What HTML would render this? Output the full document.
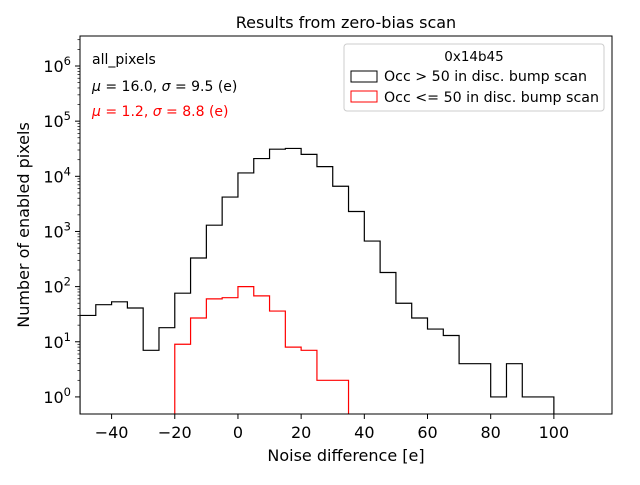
<!DOCTYPE html>
<html><head><meta charset="utf-8"><style>
body{margin:0;background:#fff;}
svg text{font-family:"DejaVu Sans","Liberation Sans",sans-serif;}
</style></head><body>
<svg id="chart" width="640" height="480" xmlns="http://www.w3.org/2000/svg">
<defs><clipPath id="clip"><rect x="80" y="36" width="532" height="378"/></clipPath></defs>
<rect x="0" y="0" width="640" height="480" fill="#fff"/>
<text x="346" y="28" font-size="16" text-anchor="middle">Results from zero-bias scan</text>
<g id="series" clip-path="url(#clip)"></g>
<rect x="80" y="36" width="532" height="378" fill="none" stroke="#000" stroke-width="1"/>
<g id="xticks"></g><g id="yticks"></g>
<text x="346" y="461" font-size="16" text-anchor="middle">Noise difference [e]</text>
<text transform="translate(29,225) rotate(-90)" font-size="16" text-anchor="middle">Number of enabled pixels</text>
<text x="92" y="64" font-size="14">all_pixels</text>
<text x="92" y="91" font-size="14"><tspan font-style="italic">μ</tspan> = 16.0, <tspan font-style="italic">σ</tspan> = 9.5 (e)</text>
<text x="92" y="116" font-size="14" fill="#ff0000"><tspan font-style="italic">μ</tspan> = 1.2, <tspan font-style="italic">σ</tspan> = 8.8 (e)</text>
<g>
<rect x="344" y="44" width="260" height="67" rx="3" fill="#fff" stroke="#ccc"/>
<text x="474" y="61" font-size="13.5" text-anchor="middle">0x14b45</text>
<rect x="351" y="71" width="26" height="11" fill="none" stroke="#000"/>
<text x="384" y="81" font-size="14.2">Occ &gt; 50 in disc. bump scan</text>
<rect x="351" y="91" width="26" height="11" fill="none" stroke="#ff0000"/>
<text x="384" y="102" font-size="14.2">Occ &lt;= 50 in disc. bump scan</text>
</g>
</svg>
<script>
const blackStart = -50;
const blackCounts = [30,47,53,41,7,18,76,330,1300,4200,11500,21000,31000,32000,25000,15000,6600,2300,670,180,50,27,17,13,4,4,1,4,1,1];
const redStart = -20;
const redCounts = [9,27,60,63,100,68,36,8,7,2,2];
const binWidth = 5;
const xTicks = [-40,-20,0,20,40,60,80,100];
const yTicks = [0,1,2,3,4,5,6];

const X0=80,X1=612,Y0=36,Y1=414;
const xmin=-50,xmax=118.4, ymin=Math.log10(0.49), ymax=Math.log10(3.5e6);
const xs=v=>X0+(v-xmin)/(xmax-xmin)*(X1-X0);
const ys=v=>Y1-(Math.log10(v)-ymin)/(ymax-ymin)*(Y1-Y0);
const NS="http://www.w3.org/2000/svg";
function stepPath(start,counts,color,name){
  let d=`M${xs(start)},${Y1+5}`;
  counts.forEach((c,i)=>{const a=start+i*binWidth;d+=` L${xs(a)},${ys(c)} L${xs(a+binWidth)},${ys(c)}`;});
  d+=` L${xs(start+counts.length*binWidth)},${Y1+5}`;
  const p=document.createElementNS(NS,'path');
  p.setAttribute('d',d);p.setAttribute('fill','none');p.setAttribute('stroke',color);p.setAttribute('stroke-width','1.2');
  
  
  document.getElementById('series').appendChild(p);
}
stepPath(blackStart,blackCounts,'#000','black-histogram');
stepPath(redStart,redCounts,'#ff0000','red-histogram');
const gx=document.getElementById('xticks');
xTicks.forEach(t=>{
  const l=document.createElementNS(NS,'line');
  l.setAttribute('x1',xs(t));l.setAttribute('x2',xs(t));l.setAttribute('y1',Y1);l.setAttribute('y2',Y1+5);l.setAttribute('stroke','#000');
  
  
  gx.appendChild(l);
  const tx=document.createElementNS(NS,'text');
  tx.setAttribute('x',xs(t));tx.setAttribute('y',Y1+24);tx.setAttribute('font-size','16');tx.setAttribute('text-anchor','middle');
  tx.textContent=(t<0?'\u2212'+(-t):t);
  
  
  gx.appendChild(tx);
});
const gy=document.getElementById('yticks');
yTicks.forEach(e=>{
  const y=ys(Math.pow(10,e));
  const l=document.createElementNS(NS,'line');
  l.setAttribute('x1',X0-5);l.setAttribute('x2',X0);l.setAttribute('y1',y);l.setAttribute('y2',y);l.setAttribute('stroke','#000');
  
  
  gy.appendChild(l);
  for(let m=2;m<10;m++){
    const v=Math.pow(10,e)*m; if(v>3.5e6)break;
    const yy=ys(v);
    const ml=document.createElementNS(NS,'line');
    ml.setAttribute('x1',X0-2.5);ml.setAttribute('x2',X0);ml.setAttribute('y1',yy);ml.setAttribute('y2',yy);ml.setAttribute('stroke','#000');ml.setAttribute('stroke-width','0.7');
    
    
    gy.appendChild(ml);
  }
  const tx=document.createElementNS(NS,'text');
  tx.setAttribute('x',X0-9);tx.setAttribute('y',y+6);tx.setAttribute('font-size','16');tx.setAttribute('text-anchor','end');
  tx.innerHTML='10<tspan dy="-7" font-size="11.5">'+e+'</tspan>';
  
  
  gy.appendChild(tx);
});
</script>
</body></html>
